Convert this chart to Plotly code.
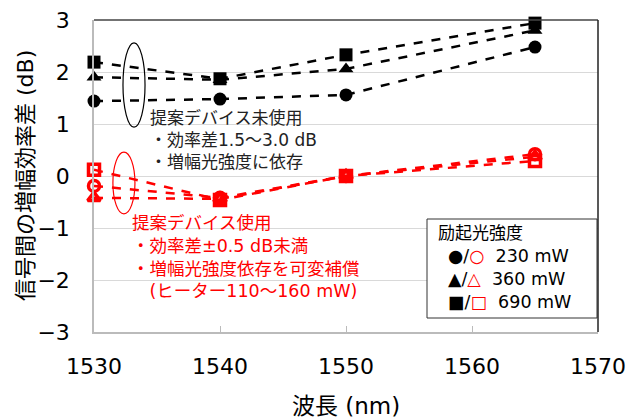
import plotly.graph_objects as go

wavelength = [1530, 1540, 1550, 1565]
off_230 = [1.44, 1.48, 1.56, 2.48]
off_360 = [1.90, 1.85, 2.06, 2.80]
off_690 = [2.19, 1.87, 2.33, 2.94]
on_230 = [-0.19, -0.42, 0.00, 0.42]
on_360 = [-0.42, -0.44, 0.00, 0.37]
on_690 = [0.12, -0.46, 0.00, 0.29]

x_ticks = [1530, 1540, 1550, 1560, 1570]
y_ticks = [-3, -2, -1, 0, 1, 2, 3]

FONT = "DejaVu Sans, Noto Sans CJK JP"
fig = go.Figure()

black_series = [(off_230, "circle"), (off_360, "triangle-up"), (off_690, "square")]
red_series = [(on_230, "circle-open"), (on_360, "triangle-up-open"), (on_690, "square-open")]

for ys, sym in black_series:
    fig.add_trace(go.Scatter(x=wavelength, y=ys, mode="lines+markers",
                             line=dict(color="black", width=2.5, dash="dash"),
                             marker=dict(symbol=sym, size=13, color="black"),
                             showlegend=False, cliponaxis=False))
for ys, sym in red_series:
    fig.add_trace(go.Scatter(x=wavelength, y=ys, mode="lines+markers",
                             line=dict(color="red", width=2.5, dash="dash"),
                             marker=dict(symbol=sym, size=11, color="red",
                                         line=dict(color="red", width=3.5)),
                             showlegend=False, cliponaxis=False))

# ellipses
fig.add_shape(type="circle", xref="x", yref="y", x0=1532.3, x1=1534.05, y0=0.94, y1=2.56,
              line=dict(color="black", width=1.2))
fig.add_shape(type="circle", xref="x", yref="y", x0=1531.5, x1=1533.25, y0=-0.73, y1=0.46,
              line=dict(color="red", width=1.2))

def px(xp, yp):
    # pixel in the reference -> domain coords (plot area 94..598 x, 20..332 y)
    return (xp - 94) / (598 - 94), 1 - (yp - 20) / (332 - 20)

black_text = "提案デバイス未使用<br>・効率差1.5～3.0 dB<br>・増幅光強度に依存"
xx, yy = px(148, 106)
fig.add_annotation(x=xx, y=yy, xref="x domain", yref="y domain", text=black_text,
                   showarrow=False, xanchor="left", yanchor="top", align="left",
                   font=dict(family=FONT, size=17, color="#222"))

red_text = ("提案デバイス使用<br>・効率差±0.5 dB未満<br>・増幅光強度依存を可変補償"
            "<br>　(ヒーター110～160 mW)")
xx, yy = px(130, 211)
fig.add_annotation(x=xx, y=yy, xref="x domain", yref="y domain", text=red_text,
                   showarrow=False, xanchor="left", yanchor="top", align="left",
                   font=dict(family=FONT, size=17.5, color="red"))

# legend box
x0, y1 = px(427, 219)
x1, y0 = px(597, 318)
fig.add_shape(type="rect", xref="x domain", yref="y domain", x0=x0, x1=x1, y0=y0, y1=y1,
              line=dict(color="#333", width=1), fillcolor="white")
xx, yy = px(436, 233)
fig.add_annotation(x=xx, y=yy, xref="x domain", yref="y domain", text="励起光強度",
                   showarrow=False, xanchor="left", yanchor="middle",
                   font=dict(family=FONT, size=17, color="black"))
leg_black = ["●", "▲", "■"]
leg_red = ["○", "△", "□"]
leg_labels = ["230 mW", "360 mW", "690 mW"]
rows = [f"{b}/<span style='color:red'>{r}</span>  {lab}"
        for b, r, lab in zip(leg_black, leg_red, leg_labels)]
xx, yy = px(446, 244)
fig.add_annotation(x=xx, y=yy, xref="x domain", yref="y domain", text="<br>".join(rows),
                   showarrow=False, xanchor="left", yanchor="top", align="left",
                   font=dict(family=FONT, size=17.5, color="black"))

# y-axis title as a rotated annotation
xx, yy = px(25, 176)
fig.add_annotation(x=xx, y=yy, xref="x domain", yref="y domain", text="信号間の増幅効率差 (dB)",
                   textangle=-90, showarrow=False, xanchor="center", yanchor="middle",
                   font=dict(family=FONT, size=22, color="black"))

# page body has an 8px margin: shrink the figure and shift margins to compensate
fig.update_layout(
    width=626, height=411,
    margin=dict(l=86, r=36, t=12, b=87),
    plot_bgcolor="white", paper_bgcolor="white",
    font=dict(family=FONT, size=22, color="black"),
    xaxis=dict(range=[1530, 1570], tickvals=x_ticks, showgrid=False, automargin=False,
               ticks="inside", ticklen=6, tickcolor="#bbb", ticklabeloverflow="allow",
               showline=True, linecolor="#bbb", linewidth=1.5, mirror=False,
               ticklabelstandoff=14,
               title=dict(text="波長 (nm)", font=dict(size=23), standoff=20),
               tickfont=dict(size=22)),
    yaxis=dict(range=[-3, 3], tickvals=y_ticks, showgrid=True, gridcolor="#d9d9d9",
               zeroline=False, showline=True, linecolor="#bbb", linewidth=1.5, automargin=False,
               ticklabelstandoff=18, ticklabeloverflow="allow",
               tickfont=dict(size=22)),
)
# top and right frame
fig.add_shape(type="line", xref="paper", yref="paper", x0=0, x1=1, y0=1, y1=1,
              line=dict(color="#444", width=1.5))
fig.add_shape(type="line", xref="paper", yref="paper", x0=1, x1=1, y0=0, y1=1,
              line=dict(color="#222", width=1.5))

fig.write_html("out.html")
